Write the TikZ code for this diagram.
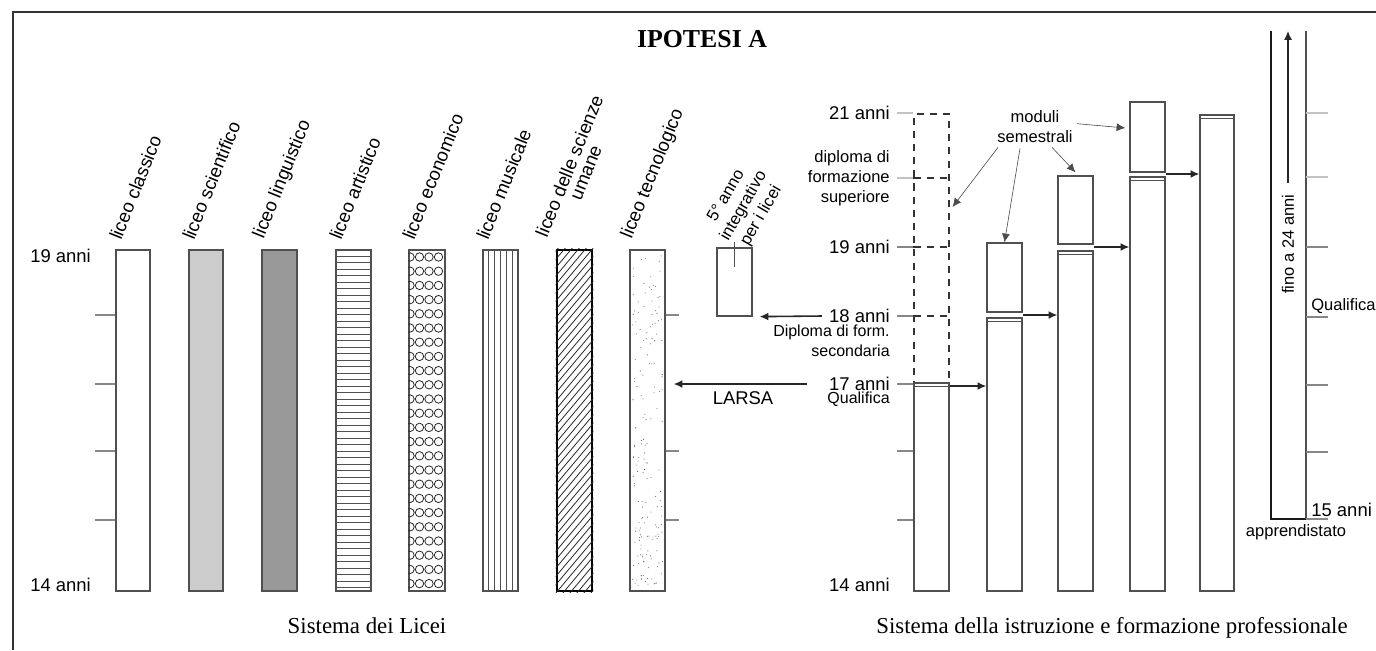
\documentclass[tikz,border=0pt]{standalone}
\usepackage{fontspec}
\setmainfont{Liberation Serif}
\setsansfont{Liberation Sans}
\usetikzlibrary{arrows.meta,fit,calc}
\definecolor{barline}{RGB}{80,80,80}
\definecolor{tickmid}{RGB}{135,135,135}
\definecolor{ticklight}{RGB}{195,195,195}
\definecolor{lightfill}{RGB}{204,204,204}
\definecolor{darkfill}{RGB}{153,153,153}

\begin{document}
\begin{tikzpicture}[
  x=0.02cm, y=-0.02cm,
  bar/.style={draw=barline, line width=0.7pt, inner sep=0pt},
  dashbar/.style={draw=black!80, line width=0.6pt, dash pattern=on 4pt off 3.5pt,
                  inner sep=0pt},
  agetext/.style={font=\sffamily\fontsize{10.5}{12}\selectfont, inner sep=0pt},
  notetext/.style={font=\sffamily\fontsize{9.4}{11.3}\selectfont, inner sep=0pt},
  liceotext/.style={font=\sffamily\fontsize{10.6}{10}\selectfont, rotate=68,
                    anchor=south west, inner sep=0pt, align=center},
  tick/.style={draw=tickmid, line width=0.6pt},
  lighttick/.style={draw=ticklight, line width=0.9pt},
  flow/.style={draw=black!85, line width=0.9pt, -{Latex[length=5pt,width=4.5pt]}},
  pointer/.style={draw=black!70, line width=0.35pt, -{Latex[length=5pt,width=4.5pt]}},
  caption/.style={font=\fontsize{13}{15}\selectfont, inner sep=0pt}
]
  \useasboundingbox (0,0) rectangle (1376,650);
  \draw[black!80, line width=1pt] (13,650) -- (13,12) -- (1376,12);

  \node[font=\bfseries\fontsize{14.7}{16}\selectfont, inner sep=0pt, anchor=base]
    (title) at (702,47) {IPOTESI A};

  % sistema dei licei
  \node[bar, fit={(116,250) (150,591)}] (l1) {};
  \node[bar, fill=lightfill, fit={(189,250) (223,591)}] (l2) {};
  \node[bar, fill=darkfill, fit={(262,250) (297,591)}] (l3) {};
  \node[bar, fit={(336,250) (371,591)}] (l4) {};
  \node[bar, fit={(409,250) (445,591)}] (l5) {};
  \node[bar, fit={(483,250) (518,591)}] (l6) {};
  \node[bar, draw=black, line width=1.5pt, fit={(557,250) (592,591)}] (l7) {};
  \node[bar, fit={(630,250) (665,591)}] (l8) {};

  \begin{scope}
    \clip (l4.north west) rectangle (l4.south east);
    \foreach \y in {256,262.5,...,588}
      \draw[barline, line width=0.55pt] (336,\y) -- (371,\y);
  \end{scope}
  \begin{scope}
    \clip (l5.north west) rectangle (l5.south east);
    \foreach \r in {0,...,23}
      \foreach \c in {0,...,3}
        \draw[black!85, line width=0.45pt] (410+\c*9.5,257+\r*14.2) circle (4.2);
  \end{scope}
  \foreach \i in {1,...,5}
    \draw[barline, line width=0.4pt] (483+\i*35/6,250) -- (483+\i*35/6,591);
  \begin{scope}
    \clip (l7.north west) rectangle (l7.south east);
    \foreach \k in {-45,...,6}
      \draw[black!85, line width=0.45pt] (557+\k*7,600) -- (859+\k*7,240);
  \end{scope}
  \pgfmathsetseed{12}
  \foreach \i in {1,...,170} {
    \pgfmathsetmacro\dx{632+31*rnd}
    \pgfmathsetmacro\dy{253+336*rnd}
    \fill[black!60] (\dx,\dy) circle (0.55);
  }

  \foreach \n/\t in {1/liceo classico,2/liceo scientifico,3/liceo linguistico,
                     4/liceo artistico,5/liceo economico,6/liceo musicale,
                     8/liceo tecnologico}
    \node[liceotext] (t\n) at ($(l\n.north west)+(6,-8)$) {\t};
  \node[liceotext] (t7) at ($(l7.north west)+(8,-3)$) {liceo delle scienze\\umane};

  \foreach \y in {315,384,451,520}
    \draw[tick] (95,\y) -- (l1.west |- 0,\y);
  \foreach \y in {315,451,520}
    \draw[tick] (l8.east |- 0,\y) -- (679,\y);
  \node[agetext, anchor=west] (a19) at (30,256) {19 anni};
  \node[agetext, anchor=west] (a14) at (30,585) {14 anni};

  % 5 anno integrativo
  \node[bar, fit={(717,248) (752,316)}] (quinto) {};
  \node[font=\sffamily\fontsize{9.5}{11.5}\selectfont, rotate=60, align=center,
        inner sep=0pt] (quintolab) at (744,206) {5° anno\\integrativo\\per i licei};
  \draw[barline, line width=0.4pt] (quinto.north |- 0,242) -- (quinto.north |- 0,267);

  % sistema istruzione e formazione professionale
  \node[dashbar, fit={(914,114) (949,383)}] (cadash) {};
  \node[bar, fill=white, fit={(914,383) (949,591)}] (ca) {};
  \node[bar, fit={(987,243) (1022,312)}] (mb) {};
  \node[bar, fit={(987,318) (1022,591)}] (cb) {};
  \node[bar, fit={(1058,176) (1093,244)}] (mc) {};
  \node[bar, fit={(1058,251) (1093,591)}] (cc) {};
  \node[bar, fit={(1130,102) (1165,172)}] (md) {};
  \node[bar, fit={(1130,177) (1165,591)}] (cd) {};
  \node[bar, fit={(1200,115) (1234,591)}] (ce) {};
  \foreach \c in {ca,cb,cc,cd,ce}
    \draw[barline, line width=0.5pt] ($(\c.north west)+(0,4)$) -- ($(\c.north east)+(0,4)$);
  \foreach \y in {178,247,316}
    \draw[dashbar] (cadash.west |- 0,\y) -- (cadash.east |- 0,\y);

  \foreach \y in {113,178}
    \draw[lighttick] (897,\y) -- (cadash.west |- 0,\y);
  \foreach \y in {247,316,384,451,520}
    \draw[tick] (897,\y) -- (cadash.west |- 0,\y);

  \node[agetext, anchor=east] (r21) at (890,113) {21 anni};
  \node[notetext, anchor=north east, align=right] (dipsup) at (890,150)
    {diploma di\\formazione\\superiore};
  \node[agetext, anchor=east] (r19) at (890,247) {19 anni};
  \node[agetext, anchor=east] (r18) at (890,316) {18 anni};
  \node[notetext, font=\sffamily\fontsize{9.1}{11.3}\selectfont, anchor=north east,
        align=right] (dipsec) at (890,325) {Diploma di form.\\secondaria};
  \node[agetext, anchor=east] (r17) at (890,384) {17 anni};
  \node[notetext, font=\sffamily\fontsize{9.1}{11}\selectfont, anchor=north east]
    (qual1) at (890,392) {Qualifica};
  \node[agetext, anchor=east] (r14) at (890,585) {14 anni};
  \node[agetext] (larsa) at (743,398) {LARSA};

  \draw[flow] ($(r18.west)+(-7,0)$) -- ($(quinto.south east)+(7,0)$);
  \draw[flow] ($(r17.west)+(-22,0)$) -- ($(l8.east |- 0,384)+(8,0)$);

  \draw[flow] (ca.east |- 0,386) -- (cb.west |- 0,386);
  \draw[flow] (cb.east |- 0,315) -- (cc.west |- 0,315);
  \draw[flow] (cc.east |- 0,247) -- (cd.west |- 0,247);
  \draw[flow] (cd.east |- 0,174) -- (ce.west |- 0,174);

  \node[notetext, align=center] (moduli) at (1035,127) {moduli\\semestrali};
  \draw[pointer] ($(moduli.south west)+(1,4)$) -- ($(cadash.east |- 0,207)+(3,0)$);
  \draw[pointer] ($(moduli.south)+(-15,5)$) -- (mb.north);
  \draw[pointer] ($(moduli.south)+(17,4)$) -- ($(mc.north)+(0,-3)$);
  \draw[pointer] ($(moduli.north east)+(4,13)$) -- ($(md.west)+(-4,-9)$);

  % apprendistato
  \coordinate (apl) at (1271,31);
  \coordinate (apr) at (1306,31);
  \draw[black!90, line width=0.7pt] (apl) -- (apl |- 0,519) -- (apr |- 0,519);
  \draw[barline, line width=0.9pt] (apr) -- (apr |- 0,519);
  \foreach \y in {113,177}
    \draw[lighttick] (apr |- 0,\y) -- (1328,\y);
  \foreach \y in {247,317,385,452,519}
    \draw[tick] (apr |- 0,\y) -- (1328,\y);
  \coordinate (arrbase) at (1288,183);
  \coordinate (arrtop) at (1288,31);
  \draw[flow, line width=0.7pt] (arrbase) -- (arrtop);
  \node[notetext, rotate=90] (fino) at (1288,244) {fino a 24 anni};
  \node[notetext, anchor=west] (qual2) at (1311,306) {Qualifica};
  \node[agetext, anchor=west] (a15) at (1311,510) {15 anni};
  \node[notetext] (appr) at (1296,532) {apprendistato};

  \node[caption, anchor=base] (capl) at (367,633) {Sistema dei Licei};
  \node[caption, anchor=base] (capr) at (1112,633)
    {Sistema della istruzione e formazione professionale};
\end{tikzpicture}
\end{document}
